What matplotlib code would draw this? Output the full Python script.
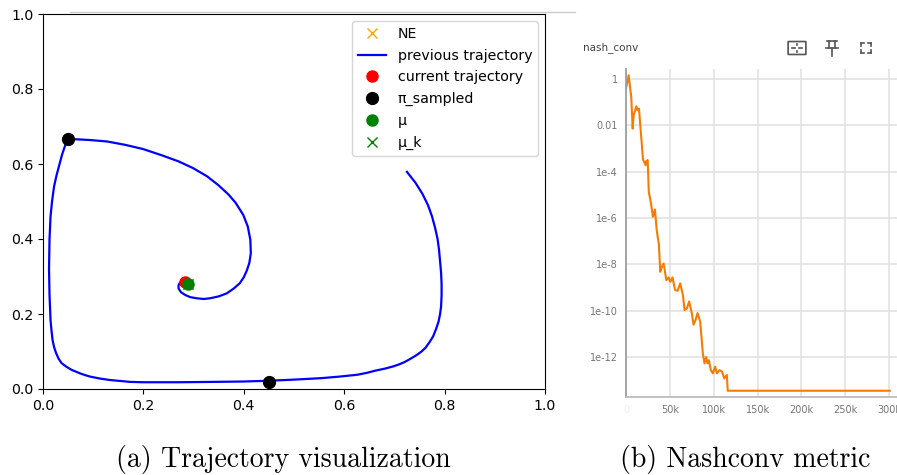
import numpy as np
import matplotlib.pyplot as plt
from matplotlib.lines import Line2D
from matplotlib.patches import FancyBboxPatch

# ---------------- data ----------------
# previous trajectory (left panel)
traj_x = [0.725, 0.742, 0.756, 0.767, 0.775, 0.781, 0.786, 0.789, 0.791, 0.793,
          0.794, 0.794, 0.793, 0.791, 0.788, 0.783, 0.777, 0.770, 0.762, 0.754,
          0.747, 0.740, 0.730, 0.719, 0.708, 0.697, 0.680, 0.662, 0.645, 0.626,
          0.590, 0.555, 0.500, 0.450, 0.400, 0.342, 0.270, 0.199, 0.173, 0.133,
          0.113, 0.094, 0.084, 0.075, 0.066, 0.057, 0.047, 0.037, 0.031, 0.026,
          0.022, 0.019, 0.017, 0.015, 0.013, 0.012, 0.013, 0.015, 0.018, 0.022,
          0.027, 0.033, 0.038, 0.043, 0.047, 0.050, 0.093, 0.128, 0.164, 0.199,
          0.235, 0.270, 0.299, 0.327, 0.349, 0.370, 0.384, 0.399, 0.408, 0.413,
          0.414, 0.411, 0.406, 0.400, 0.392, 0.380, 0.366, 0.350, 0.333, 0.320,
          0.306, 0.293, 0.283, 0.275, 0.270, 0.270, 0.272, 0.278]
traj_y = [0.579, 0.550, 0.520, 0.490, 0.460, 0.430, 0.400, 0.370, 0.340, 0.310,
          0.280, 0.250, 0.220, 0.200, 0.180, 0.160, 0.140, 0.125, 0.110, 0.100,
          0.093, 0.087, 0.079, 0.071, 0.065, 0.060, 0.054, 0.049, 0.043, 0.038,
          0.033, 0.029, 0.025, 0.022, 0.020, 0.019, 0.018, 0.018, 0.019, 0.024,
          0.028, 0.033, 0.037, 0.041, 0.046, 0.051, 0.059, 0.069, 0.081, 0.096,
          0.112, 0.131, 0.155, 0.184, 0.250, 0.320, 0.400, 0.460, 0.500, 0.540,
          0.570, 0.600, 0.625, 0.645, 0.660, 0.667, 0.664, 0.660, 0.651, 0.640,
          0.624, 0.607, 0.589, 0.567, 0.544, 0.518, 0.496, 0.464, 0.433, 0.398,
          0.362, 0.336, 0.316, 0.298, 0.282, 0.268, 0.255, 0.247, 0.242, 0.240,
          0.242, 0.245, 0.251, 0.258, 0.268, 0.276, 0.282, 0.291]
ne_xy = (0.289, 0.280)
current_xy = (0.283, 0.286)
sampled_x = [0.050, 0.450]
sampled_y = [0.667, 0.020]
mu_xy = (0.289, 0.280)
mu_k_xy = (0.289, 0.280)

# nash_conv curve (right panel): step, log10(value)
steps = [0, 3000, 6000, 7600, 8700, 11800, 13300, 14800, 16300, 19400,
         22400, 23000, 24700, 26000, 28500, 30700, 33000, 35000, 37600, 39000,
         41000, 42900, 46000, 48500, 50500, 53000, 56000, 58800, 61800, 64900,
         66800, 69400, 72000, 75000, 77000, 79300, 81600, 84600, 87600, 89500,
         91400, 92900, 94500, 96700, 99000, 101700, 103600, 106600, 109600, 112000,
         115000, 116000, 300800]
log_nc = [-0.42, 0.16, -0.78, -2.14, -1.57, -1.18, -1.35, -1.28, -2.00, -3.48,
          -3.72, -3.55, -3.50, -4.87, -5.37, -5.95, -5.63, -6.52, -7.17, -8.32,
          -8.10, -7.96, -8.68, -8.56, -8.75, -8.56, -9.10, -9.14, -8.82, -9.32,
          -9.97, -9.90, -9.60, -10.10, -10.60, -10.40, -10.10, -10.47, -11.84, -12.27,
          -12.00, -12.27, -12.13, -12.56, -12.70, -12.41, -12.70, -12.56, -12.63, -12.92,
          -12.77, -13.45, -13.45]
y_ticks = [1, 1e-2, 1e-4, 1e-6, 1e-8, 1e-10, 1e-12]
y_labels = ['1', '0.01', '1e-4', '1e-6', '1e-8', '1e-10', '1e-12']
x_ticks = [0, 50000, 100000, 150000, 200000, 250000, 300000]
x_labels = ['0', '50k', '100k', '150k', '200k', '250k', '300k']

W, H = 897, 475
fig = plt.figure(figsize=(W / 100, H / 100), dpi=100)

def px(x, y):
    return x / W, 1 - y / H

# ---------------- left panel ----------------
ax = fig.add_axes([43 / W, 1 - 389 / H, 502 / W, 375 / H])
ax.plot(*ne_xy, 'x', color='orange', markersize=7, label='NE')
ax.plot(traj_x, traj_y, color='blue', lw=1.6, label='previous trajectory')
ax.plot(*current_xy, 'o', color='red', markersize=8, label='current trajectory', ls='none')
ax.plot(sampled_x, sampled_y, 'o', color='black', markersize=8.5, label='π_sampled', ls='none')
ax.plot(*mu_xy, 'o', color='green', markersize=8, label='μ', ls='none')
ax.plot(*mu_k_xy, 'x', color='green', markersize=7, label='μ_k', ls='none')
ax.set_xlim(0, 1)
ax.set_ylim(0, 1)
ax.tick_params(labelsize=10.2)
ax.legend(loc='upper right', fontsize=10.2, labelspacing=0.55)

# ---------------- right panel ----------------
ax2 = fig.add_axes([626 / W, 1 - 397 / H, (W - 626) / W, 328 / H])
ax2.plot(steps, 10.0 ** np.array(log_nc), color='#f57c00', lw=1.5)
ax2.set_yscale('log')
ax2.set_xlim(0, 309000)
ax2.set_ylim(10 ** -13.72, 10 ** 0.43)
ax2.set_yticks(y_ticks)
ax2.set_yticklabels(y_labels)
ax2.minorticks_off()
ax2.set_xticks(x_ticks)
ax2.set_xticklabels(x_labels)
ax2.tick_params(length=0, labelsize=7, labelcolor='#757575', pad=6)
ax2.get_xticklabels()[0].set_color('#eeeeee')
ax2.grid(True, color='#e0e0e0', lw=1.1)
ax2.set_axisbelow(True)
for s in ['top', 'right']:
    ax2.spines[s].set_visible(False)
ax2.spines['left'].set_color('#9e9e9e')
ax2.spines['left'].set_linewidth(1.3)
ax2.spines['bottom'].set_color('#bdbdbd')
ax2.spines['bottom'].set_linewidth(1.3)
fig.text(*px(583, 48), 'nash_conv', fontsize=7.5, color='#424242', va='center')

# toolbar icons
icon_kw = dict(transform=fig.transFigure, color='#555555', lw=1.2)
fig.add_artist(FancyBboxPatch(px(789, 54), 16 / W, 12 / H,
                              boxstyle='round,pad=0.001', transform=fig.transFigure,
                              fill=False, ec='#555555', lw=1.2))
for (x0, y0, x1, y1) in [(792, 48, 795, 48), (799, 48, 802, 48),
                         (797, 44, 797, 45), (797, 51, 797, 52),
                         (827, 41, 837, 41), (829, 41, 829, 48), (835, 41, 835, 48),
                         (826, 48, 838, 48), (832, 48, 832, 56),
                         (861, 43, 864, 43), (861, 43, 861, 46), (868, 43, 871, 43), (871, 43, 871, 46),
                         (861, 50, 861, 53), (861, 53, 864, 53), (871, 50, 871, 53), (868, 53, 871, 53)]:
    a, b = px(x0, y0)
    c, d = px(x1, y1)
    fig.add_artist(Line2D([a, c], [b, d], **icon_kw))

# screenshot edge lines
a, b = px(70, 12)
c, d = px(575, 12)
fig.add_artist(Line2D([a, c], [b, d], transform=fig.transFigure, color='#cccccc', lw=1))

# captions
fig.text(*px(283, 459), '(a) Trajectory visualization', family='cmr10',
         fontsize=20, ha='center', va='center')
fig.text(*px(745, 459), '(b) Nashconv metric', family='cmr10',
         fontsize=20, ha='center', va='center')

fig.savefig('out.png', dpi=100)
